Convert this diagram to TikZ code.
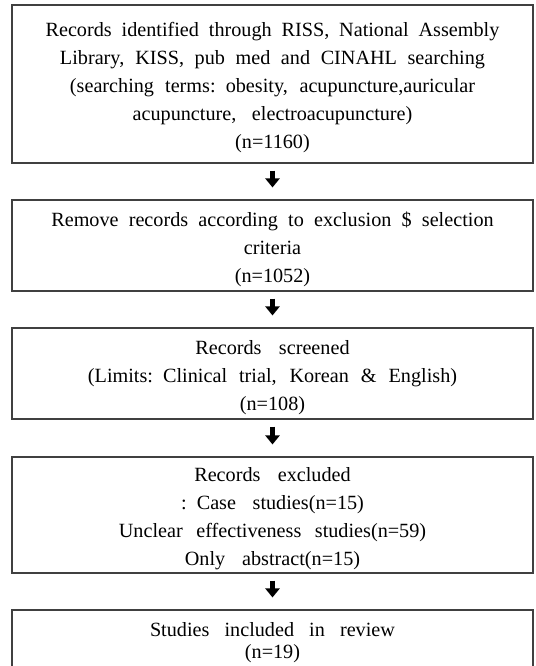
\documentclass[tikz,border=0pt]{standalone}
\usepackage{fontspec}
\setmainfont{Liberation Serif}
\usetikzlibrary{arrows.meta}

\tikzset{
  stage/.style={draw=black!75, line width=1.1pt, text width=501pt, inner xsep=10pt, inner ysep=0pt,
    align=center, font=\fontsize{20.2}{28}\selectfont,
    execute at begin node={\spaceskip=0.43em plus 0.1em\relax\rule{0pt}{22pt}}},
  flow/.style={line width=4.5pt, -{Triangle[length=9pt,width=14pt]}, shorten <=7pt, shorten >=12pt}
}

\begin{document}
\begin{tikzpicture}[x=1pt,y=-1pt]
\useasboundingbox (0,0) rectangle (535,666);
				\node[stage, minimum height=158pt] (ident) at (272.5,84) {Records identified through RISS, National Assembly\\ Library, KISS, pub med and CINAHL searching\\ (searching terms: obesity, acupuncture,auricular\\ acupuncture, electroacupuncture)\\ (n=1160)};
				\node[stage, minimum height=91pt] (remove) at (272.5,245.5) {Remove records according to exclusion \$ selection\\ criteria\\ (n=1052)};
				\node[stage, minimum height=91pt] (screen) at (272.5,373.5) {Records screened\\ (Limits: Clinical trial, Korean \& English)\\ (n=108)};
				\node[stage, minimum height=116pt] (exclude) at (272.5,515) {Records excluded\\ : Case studies(n=15)\\ Unclear effectiveness studies(n=59)\\ Only abstract(n=15)};
				\node[stage, minimum height=58pt, font=\fontsize{20.2}{22}\selectfont] (incl) at (272.5,639) {Studies included in review\\ (n=19)};
				\draw[flow] (ident) to (remove);
				\draw[flow] (remove) to (screen);
				\draw[flow] (screen) to (exclude);
				\draw[flow] (exclude) to (incl);
			\end{tikzpicture}
\end{document}
